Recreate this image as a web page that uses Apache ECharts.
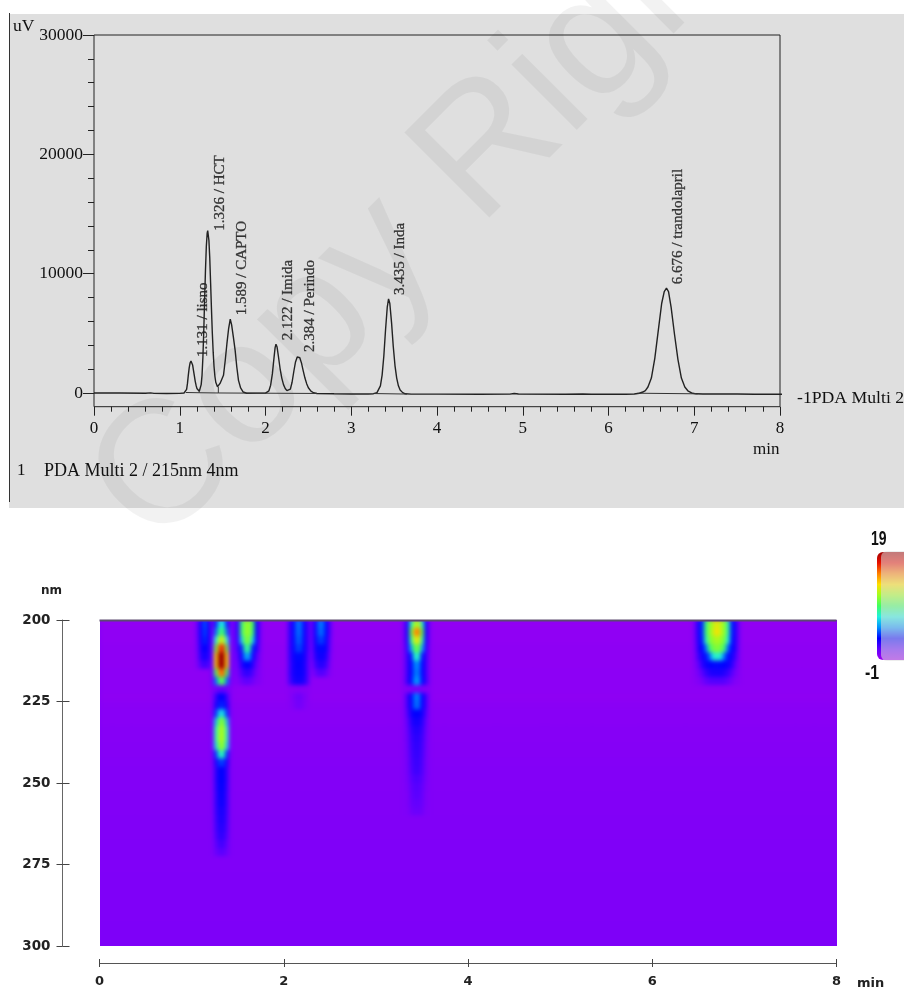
<!DOCTYPE html>
<html><head><meta charset="utf-8">
<style>
html,body{margin:0;padding:0;background:#fff;overflow:hidden}
#heatWrap{position:absolute;left:99.5px;top:620px;width:737px;height:326px;overflow:hidden}
#heat{position:absolute;left:-8px;top:-8px;width:753px;height:342px;filter:blur(2.2px)}
#main{position:absolute;left:0;top:0;width:904px;height:994px}
</style>
<script src="https://cdn.jsdelivr.net/npm/echarts@6/dist/echarts.min.js"></script>
</head><body>
<div id="heatWrap"><div id="heat"></div></div>
<div id="main"></div>
<script>
// ---------- chromatogram (minutes, uV) ----------
const chromatogram = [[0,0],[0.3,0],[0.6,-20],[0.62,20],[0.66,10],[0.7,-30],[0.85,-50],[1,-30],[1.05,0],[1.07,60],[1.08,300],[1.09,800],[1.1,1500],[1.11,2100],[1.12,2500],[1.131,2680],[1.14,2600],[1.15,2350],[1.16,1900],[1.17,1450],[1.18,1000],[1.19,650],[1.2,380],[1.21,220],[1.228,150],[1.24,300],[1.25,700],[1.26,1500],[1.27,3000],[1.28,5200],[1.29,7800],[1.3,10300],[1.31,12300],[1.32,13400],[1.326,13600],[1.33,13500],[1.34,12800],[1.35,11300],[1.36,9200],[1.37,7000],[1.38,5000],[1.39,3400],[1.4,2200],[1.41,1400],[1.42,900],[1.44,520],[1.45,500],[1.47,800],[1.51,1480],[1.53,2700],[1.55,4130],[1.57,5400],[1.589,6180],[1.605,5700],[1.625,4700],[1.646,3570],[1.665,2200],[1.685,1060],[1.71,420],[1.74,80],[1.78,-20],[1.9,-10],[2,-10],[2.02,30],[2.04,180],[2.06,650],[2.08,1600],[2.1,3000],[2.112,3800],[2.122,4080],[2.135,3850],[2.15,3100],[2.17,2050],[2.19,1250],[2.21,700],[2.23,380],[2.25,200],[2.27,140],[2.29,320],[2.31,900],[2.33,1800],[2.35,2600],[2.37,3020],[2.384,3100],[2.4,2950],[2.42,2500],[2.44,1850],[2.46,1250],[2.48,780],[2.5,440],[2.53,150],[2.56,20],[2.6,-40],[2.8,-70],[3,-80],[3.2,-80],[3.26,-60],[3.28,-30],[3.3,30],[3.32,180],[3.34,600],[3.36,1500],[3.38,3100],[3.4,5300],[3.42,7200],[3.435,7880],[3.45,7500],[3.47,5900],[3.49,3900],[3.51,2300],[3.53,1250],[3.55,600],[3.57,250],[3.6,30],[3.63,-70],[3.7,-100],[4,-100],[4.5,-110],[4.85,-100],[4.9,-40],[4.95,-90],[5.5,-110],[5.7,-90],[5.8,-110],[6.2,-110],[6.3,-80],[6.36,-20],[6.4,80],[6.43,200],[6.46,500],[6.5,1250],[6.54,2900],[6.58,5200],[6.62,7500],[6.65,8500],[6.676,8780],[6.7,8500],[6.73,7200],[6.77,4900],[6.81,2800],[6.85,1250],[6.89,500],[6.93,150],[6.97,0],[7.02,-70],[7.1,-90],[7.5,-80],[7.7,-110],[8,-110],[8.05,-110]];
const integrationBaseline = [[1.07,40],[1.228,20],[1.45,0],[2.6,-40],[null,null],[3.27,-50],[3.65,-90],[null,null],[6.34,-20],[7.04,-70]];
const valleyDrops = [[1.228,20],[1.228,150],[null,null],[1.45,0],[1.45,500]];
const traceTail = [[8.12,-110],[8.17,-110]];
const peakTimes = [1.131,1.326,1.589,2.122,2.384,3.435,6.676];
const peakHeights = [2680,13600,6180,4080,3100,7880,8780];
const peakNames = ['1.131 / lisno','1.326 / HCT','1.589 / CAPTO','2.122 / Imida','2.384 / Perindo','3.435 / Inda','6.676 / trandolapril'];
const topYLabels = [0,10000,20000,30000];
const topYMinor = [2000,4000,6000,8000,12000,14000,16000,18000,22000,24000,26000,28000];
const topXLabels = [0,1,2,3,4,5,6,7,8];
const topXMinor = [0.2,0.4,0.6,0.8,1.2,1.4,1.6,1.8,2.2,2.4,2.6,2.8,3.2,3.4,3.6,3.8,4.2,4.4,4.6,4.8,5.2,5.4,5.6,5.8,6.2,6.4,6.6,6.8,7.2,7.4,7.6,7.8];

// ---------- PDA contour: background level per wavelength row (200, 202.5 ... 297.5 nm) ----------
const bgRows = [-0.55,-0.5,-0.5,-0.45,-0.45,-0.45,-0.4,-0.4,-0.4,-0.45,-0.3,-0.25,-0.25,-0.2,-0.2,-0.15,-0.15,-0.12,-0.1,-0.1,-0.08,-0.06,-0.05,-0.05,-0.04,-0.02,-0.02,0,0,0,0,0.02,0.02,0.02,0.04,0.04,0.04,0.06,0.06,0.06];
const wavelengths = bgRows.map((_,i)=>200+i*2.5);
const timeStep = 0.04, timeCount = 200;
const timeBins = Array.from({length:timeCount},(_,i)=>+(i*timeStep).toFixed(2));

// each peak: bin start times, then rows of absorbance from 200 nm down
const lisnoTimes = [1.04,1.08,1.12,1.16,1.2];
const lisnoRows = [
 [0.8,2.8,4.2,2.8,0.6],[0.8,2.8,4,2.8,0.6],[0.7,2.7,3.6,2.7,0.5],[0.6,2.5,3,2.5,0.4],
 [0.4,2.2,2.6,2.2,0.2],[0.2,1.4,1.8,1.4,0]];
const hctTimes = [1.2,1.24,1.28,1.32,1.36,1.4];
const hctRows = [
 [0.3,3.4,6.6,7,3.4,0.3],[0.3,4.4,8.4,8.8,4.4,0.3],[0.4,7,11.5,12,7,0.4],[0.4,10,16,16.5,10,0.4],
 [0.6,13,19,19,13,0.6],[0.6,13,19,19,13,0.6],[0.5,9,15,15.5,9,0.5],[0.3,4.5,9,9.5,4.5,0.3],
 [0,0.4,0.8,0.9,0.4,0],[0,1.8,3,3,1.8,0],[0.1,2.4,3.4,3.4,2.4,0.1],[0.2,3.6,6.6,6.6,3.6,0.2],
 [0.2,6,10,10.4,6,0.2],[0.2,7.5,11,11.2,7.5,0.2],[0.2,7.5,11.2,11.2,7.5,0.2],[0.2,6.5,10.4,10.6,6.5,0.2],
 [0.2,3.6,7.4,7.6,3.6,0.2],[0.1,2.4,3.8,3.8,2.4,0.1],[0.1,2,3,3,2,0.1],[0.1,2,3,3,2,0.1],
 [0.1,1.9,2.9,2.9,1.9,0.1],[0.1,1.8,2.8,2.8,1.8,0.1],[0.1,1.8,2.7,2.7,1.8,0.1],[0.1,1.7,2.5,2.5,1.7,0.1],
 [0.1,1.6,2.4,2.4,1.6,0.1],[0.1,1.5,2.2,2.2,1.5,0.1],[0.1,1.3,2,2,1.3,0.1],[0.1,1,1.6,1.6,1,0.1],[0.1,0.7,1.1,1.1,0.7,0.1]];
const captoTimes = [1.44,1.48,1.52,1.56,1.6,1.64,1.68,1.72];
const captoRows = [
 [0.5,2.2,8.5,10.5,10.8,9,3,0.6],[0.5,2.2,8.5,10.6,10.8,8.6,3,0.6],[0.4,2,6.5,10,10.2,6.6,2.8,0.5],[0.3,1.8,3.4,8,8.2,3.4,2.4,0.4],
 [0.2,1.2,2.8,5.4,5.4,2.8,1.4,0.2],[0.1,0.7,2.2,3,3,2.2,0.8,0.1],[0,0.3,1.4,2,2,1.4,0.3,0],[-0.1,0,0.6,1,1,0.6,0,-0.1]];
const imidaTimes = [2.04,2.08,2.12,2.16,2.2,2.24];
const imidaRows = [
 [1.8,2.8,4.5,4.5,2.8,1.6],[1.8,2.8,4.4,4.4,2.8,1.6],[1.8,2.8,4.2,4.2,2.8,1.6],[1.8,2.8,3.8,3.8,2.8,1.6],
 [1.7,2.7,3.1,3.1,2.7,1.4],[1.6,2.6,2.9,2.9,2.6,1.3],[1.6,2.6,2.8,2.8,2.6,1.3],[1.4,2.4,2.6,2.6,2.4,1.2],
 [-0.2,-0.2,-0.1,-0.1,-0.2,-0.2],[-0.2,0.1,0.5,0.5,0.1,-0.2],[-0.2,0,0.4,0.4,0,-0.2]];
const perindoTimes = [2.28,2.32,2.36,2.4,2.44,2.48];
const perindoRows = [
 [0.6,2.8,4.6,4.6,3,1.2],[0.6,2.8,4.4,4.4,3,1.2],[0.5,2.8,3.8,3.8,2.8,1],[0.4,2.6,3.1,3.1,2.7,0.8],
 [0.3,2.2,2.7,2.7,2.3,0.5],[0.1,1.6,2.2,2.2,1.7,0.2],[-0.1,0.7,1.3,1.3,0.8,-0.1]];
const indaTimes = [3.28,3.32,3.36,3.4,3.44,3.48,3.52,3.56];
const indaRows = [
 [0.2,2.6,7.5,11,11.5,7.5,2.6,0.2],[0.2,2.8,9.5,14.5,15,9.5,2.8,0.2],[0.2,2.6,8,12,12.5,8,2.6,0.2],[0.1,2.2,5.5,9.4,9.8,5.5,2.2,0.1],
 [0.1,1.9,3.2,7.2,7.4,3.2,1.9,0.1],[0.1,1.8,3,4.8,4.9,3,1.8,0.1],[0.1,1.8,3,4.6,4.7,3,1.8,0.1],[0.1,1.9,3.1,5,5.1,3.1,1.9,0.1],
 [-0.1,-0.1,0.1,0.3,0.3,0.1,-0.1,-0.1],[0,1.7,3,4.6,4.7,3,1.7,0],[0,1.7,2.9,4.4,4.5,2.9,1.7,0],[0,1.4,2.6,3,3,2.6,1.4,0],
 [0,1,2.2,2.6,2.6,2.2,1,0],[0,0.8,1.9,2.3,2.3,1.9,0.8,0],[0,0.7,1.7,2.1,2.1,1.7,0.7,0],[0,0.6,1.6,2,2,1.6,0.6,0],
 [0,0.5,1.5,1.9,1.9,1.5,0.5,0],[0,0.4,1.4,1.8,1.8,1.4,0.4,0],[0,0.4,1.3,1.7,1.7,1.3,0.4,0],[0,0.3,1.1,1.4,1.4,1.1,0.3,0],
 [0,0.2,0.9,1.2,1.2,0.9,0.2,0],[0,0.1,0.8,1.1,1.1,0.8,0.1,0],[0,0.1,0.7,0.9,0.9,0.7,0.1,0],[0,0,0.5,0.7,0.7,0.5,0,0]];
const trandoTimes = [6.44,6.48,6.52,6.56,6.6,6.64,6.68,6.72,6.76,6.8,6.84,6.88,6.92];
const trandoRows = [
 [0.5,2.6,3.6,8.5,10.5,11.6,12.6,11.6,10.6,8,3.4,2.4,0.4],[0.5,2.6,3.6,8.5,10.6,11.8,13,11.8,10.6,8,3.4,2.4,0.4],[0.4,2.5,3.4,7.6,10.2,10.8,11.4,10.8,10,7.2,3.2,2.3,0.4],[0.3,2.3,3,4.6,8.6,10,10.4,10,8.6,4.4,3,2.2,0.3],
 [0.2,1.8,2.6,3.2,4.4,7,7.6,7,4.4,3.2,2.6,1.7,0.2],[0.1,1,2.2,2.7,3,3.1,3.1,3.1,3,2.7,2.2,1,0.1],[-0.1,0.4,1.2,1.9,2.3,2.5,2.5,2.5,2.3,1.9,1.2,0.4,-0.1],[-0.2,-0.1,0.4,0.9,1.2,1.3,1.3,1.3,1.2,0.9,0.4,-0.1,-0.2]];

const peakTables = [[lisnoTimes,lisnoRows],[hctTimes,hctRows],[captoTimes,captoRows],[imidaTimes,imidaRows],[perindoTimes,perindoRows],[indaTimes,indaRows],[trandoTimes,trandoRows]];
const rampColors = ['#a000f0','#6000ff','#0000ff','#0090ff','#20f0e0','#40ff60','#a0ff20','#ffe000','#ff8000','#e81000','#a00000'];

// build the table the heatmap needs
const cellIndex = new Map();
peakTables.forEach(([ts,rows])=>rows.forEach((row,r)=>row.forEach((v,k)=>{
  cellIndex.set(Math.round(ts[k]/timeStep)+':'+r, v);
})));
const heatCells = [];
bgRows.forEach((bg,r)=>timeBins.forEach((_,c)=>{
  const key=c+':'+r;
  heatCells.push([c,r,cellIndex.has(key)?cellIndex.get(key):bg]);
}));

// ---------- heatmap instance (softened like the scanned contour) ----------
const heat = echarts.init(document.getElementById('heat'),null,{renderer:'canvas'});
heat.setOption({
  animation:false, backgroundColor:'#8000f8',
  grid:{left:8,right:8,top:8,bottom:8},
  xAxis:{type:'category',data:timeBins,show:false},
  yAxis:{type:'category',data:wavelengths,inverse:true,show:false},
  visualMap:{show:false,min:-1,max:19,inRange:{color:rampColors},seriesIndex:0},
  series:[{type:'heatmap',data:heatCells,progressive:0,silent:true,itemStyle:{borderWidth:0}}]
});

// ---------- main instance ----------
const serif='"Liberation Serif"', sans='"DejaVu Sans"';
const ink='#111';
const offLine={show:false,onZero:false};
const axisBase={type:'value',splitLine:{show:false},axisLine:offLine,axisTick:{show:false},axisLabel:{show:false}};
const main = echarts.init(document.getElementById('main'),null,{renderer:'canvas'});
const barStops = rampColors.slice().reverse().map((c,i)=>({offset:i/(rampColors.length-1),color:c}));
main.setOption({
  animation:false, backgroundColor:'transparent',
  textStyle:{fontFamily:serif},
  grid:[
    {left:94,top:35,width:686,height:371.7,show:true,backgroundColor:'transparent',borderColor:'#222',borderWidth:1},
    {left:99.5,top:620,width:737,height:326}
  ],
  xAxis:[
    {...axisBase,gridIndex:0,min:0,max:8,position:'bottom',
      axisTick:{show:true,length:9,lineStyle:{color:'#222'},customValues:topXLabels},
      axisLabel:{show:true,customValues:topXLabels,fontFamily:serif,fontSize:17,color:ink,margin:13,formatter:v=>String(v)}},
    {...axisBase,gridIndex:0,min:0,max:8,position:'bottom',
      axisTick:{show:true,length:5,lineStyle:{color:'#222'},customValues:topXMinor}},
    {...axisBase,gridIndex:1,min:0,max:8,interval:2,position:'bottom',offset:17,
      axisLine:{show:true,onZero:false,lineStyle:{color:'#555'}},
      axisTick:{show:true,length:4,lineStyle:{color:'#444'}},
      axisLabel:{show:true,fontFamily:sans,fontWeight:'bold',fontSize:13,color:'#222',margin:12}},
    {...axisBase,gridIndex:1,min:0,max:8,interval:2,position:'bottom',offset:17,
      axisTick:{show:true,inside:true,length:4,lineStyle:{color:'#444'}}}
  ],
  yAxis:[
    {...axisBase,gridIndex:0,min:-1150,max:30000,position:'left',
      axisTick:{show:true,length:11,lineStyle:{color:'#222'},customValues:topYLabels},
      axisLabel:{show:true,customValues:topYLabels,fontFamily:serif,fontSize:17.5,color:ink,margin:11,formatter:v=>String(v)}},
    {...axisBase,gridIndex:0,min:-1150,max:30000,position:'left',
      axisTick:{show:true,length:6,lineStyle:{color:'#222'},customValues:topYMinor}},
    {...axisBase,gridIndex:1,min:200,max:300,interval:25,inverse:true,position:'left',offset:37,
      axisLine:{show:true,onZero:false,lineStyle:{color:'#666'}},
      axisTick:{show:true,length:6,lineStyle:{color:'#444'}},
      axisLabel:{show:true,fontFamily:sans,fontWeight:'bold',fontSize:13.5,color:'#222',margin:12}},
    {...axisBase,gridIndex:1,min:200,max:300,interval:25,inverse:true,position:'left',offset:37,
      axisTick:{show:true,inside:true,length:7,lineStyle:{color:'#444'}}}
  ],
  series:[
    {type:'line',name:'PDA Multi 2',xAxisIndex:0,yAxisIndex:0,data:chromatogram,showSymbol:false,clip:false,silent:true,
      lineStyle:{color:'#222',width:1.4}},
    {type:'line',name:'baseline',xAxisIndex:0,yAxisIndex:0,data:integrationBaseline,showSymbol:false,silent:true,connectNulls:false,
      lineStyle:{color:'#333',width:1}},
    {type:'line',name:'drops',xAxisIndex:0,yAxisIndex:0,data:valleyDrops,showSymbol:false,silent:true,connectNulls:false,
      lineStyle:{color:'#333',width:1}},
    {type:'line',name:'tail',xAxisIndex:0,yAxisIndex:0,data:traceTail,showSymbol:false,clip:false,silent:true,
      lineStyle:{color:'#333',width:1,type:[2,4]}},
    {type:'scatter',name:'peaks',xAxisIndex:0,yAxisIndex:0,symbolSize:0,silent:true,
      data:peakTimes.map((t,i)=>({value:[t,peakHeights[i]],name:peakNames[i],
        label:i===1?{position:[12,0]}:undefined})),
      label:{show:true,formatter:'{b}',rotate:90,position:[12,-4],align:'left',verticalAlign:'middle',
        fontFamily:serif,fontSize:15,color:ink,textBorderColor:'#111',textBorderWidth:0.3}}
  ],
  graphic:{elements:[
    {type:'rect',z:-20,silent:true,shape:{x:9,y:14,width:895,height:494},style:{fill:'#dfdfdf'}},
    {type:'text',z:-19,silent:true,x:60,y:455,rotation:Math.PI/4,
      style:{text:'Copy Right',font:'175px "Liberation Sans"',fill:'rgba(0,0,0,0.05)',textAlign:'left',textVerticalAlign:'alphabetic'}},
    {type:'rect',z:-18,silent:true,shape:{x:9,y:13,width:1,height:489},style:{fill:'#333'}},
    {type:'text',silent:true,x:13,y:17,style:{text:'uV',font:'17.5px '+serif,fill:ink}},
    {type:'text',silent:true,x:753,y:441,style:{text:'min',font:'17px '+serif,fill:ink}},
    {type:'text',silent:true,x:797,y:389,style:{text:'-1PDA Multi 2',font:'17.7px '+serif,fill:ink}},
    {type:'text',silent:true,x:17,y:462,style:{text:'1',font:'17px '+serif,fill:ink}},
    {type:'text',silent:true,x:44,y:462,style:{text:'PDA Multi 2 / 215nm 4nm',font:'18px '+serif,fill:ink}},
    {type:'rect',silent:true,z:5,shape:{x:99.5,y:619.5,width:737,height:2},style:{fill:'#5c4a70'}},
    {type:'text',silent:true,x:41,y:585,style:{text:'nm',font:'bold 12px '+sans,fill:'#222'}},
    {type:'text',silent:true,x:857,y:977,style:{text:'min',font:'bold 13px '+sans,fill:'#222'}},
    {type:'rect',silent:true,z:5,shape:{x:877,y:552,width:32,height:108,r:6},
      style:{fill:new echarts.graphic.LinearGradient(0,0,0,1,barStops)}},
    {type:'rect',silent:true,z:6,shape:{x:881,y:551,width:28,height:110,r:6},style:{fill:'rgba(222,222,222,0.55)'}},
    {type:'text',silent:true,x:871,y:529,scaleX:0.7,style:{text:'19',font:'bold 20px "Liberation Sans"',fill:'#111'}},
    {type:'text',silent:true,x:865,y:663,scaleX:0.8,style:{text:'-1',font:'bold 20px "Liberation Sans"',fill:'#111'}}
  ]}
});
</script>
</body></html>
